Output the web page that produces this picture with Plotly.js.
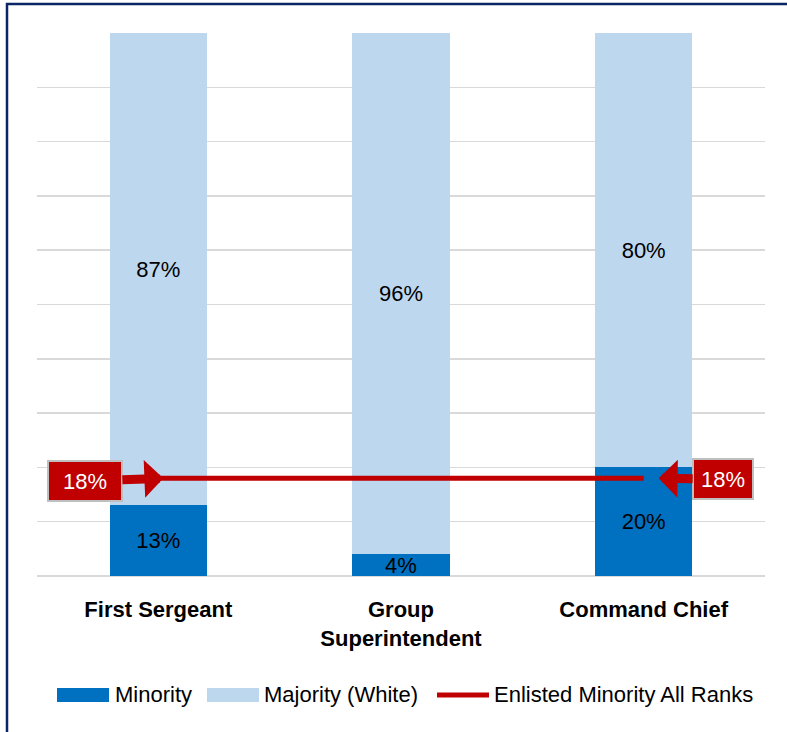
<!DOCTYPE html>
<html>
<head>
<meta charset="utf-8">
<script src="https://cdn.plot.ly/plotly-3.0.1.min.js"></script>
<style>
  html, body { margin: 0; padding: 0; background: #fff; }
  #chart { width: 787px; height: 732px; }
</style>
</head>
<body>
<div id="chart"></div>
<script>
// ---- data ----
const categories = ['First Sergeant', 'Group<br>Superintendent', 'Command Chief'];
const minority = [13, 4, 20];
const majority = [87, 96, 80];
const allRanksMinority = [18, 18, 18];
const seriesNames = ['Minority', 'Majority (White)', 'Enlisted Minority All Ranks'];

// ---- styles ----
const FONT = 'Liberation Sans, Arial, sans-serif';
const C_MIN = '#0070C0';
const C_MAJ = '#BDD7EE';
const C_RED = '#C00000';
const C_GRID = '#D9D9D9';

const traces = [
  {
    type: 'bar', name: seriesNames[0], x: categories, y: minority,
    marker: { color: C_MIN },
    texttemplate: '%{y}%', textposition: 'inside', insidetextanchor: 'middle',
    constraintext: 'none', cliponaxis: false,
    textfont: { family: FONT, size: 22, color: '#000' },
    width: 0.4, hoverinfo: 'skip', showlegend: false
  },
  {
    type: 'bar', name: seriesNames[1], x: categories, y: majority,
    marker: { color: C_MAJ },
    texttemplate: '%{y}%', textposition: 'inside', insidetextanchor: 'middle',
    constraintext: 'none',
    textfont: { family: FONT, size: 22, color: '#000' },
    width: 0.4, hoverinfo: 'skip', showlegend: false
  },
  {
    type: 'scatter', mode: 'lines', name: seriesNames[2], x: categories, y: allRanksMinority,
    line: { color: C_RED, width: 5 },
    hoverinfo: 'skip', showlegend: false
  }
];

// paper-coordinate helpers (plot area: x 37..765, y 33..576)
const PL = 37, PR = 765, PT = 33, PB = 576;
const px = v => (v - PL) / (PR - PL);
const py = v => (PB - v) / (PB - PT);

const shapes = [
  // outer chart border (left + top visible)
  { type: 'rect', xref: 'paper', yref: 'paper', x0: px(7), x1: px(900), y0: py(900), y1: py(4),
    line: { color: '#0B2566', width: 2.5 }, fillcolor: 'rgba(0,0,0,0)', layer: 'below' },
  // legend swatches
  { type: 'rect', xref: 'paper', yref: 'paper', x0: px(57), x1: px(109), y0: py(702), y1: py(688),
    line: { width: 0 }, fillcolor: C_MIN },
  { type: 'rect', xref: 'paper', yref: 'paper', x0: px(207), x1: px(259), y0: py(702), y1: py(688),
    line: { width: 0 }, fillcolor: C_MAJ },
  { type: 'line', xref: 'paper', yref: 'paper', x0: px(437), x1: px(489), y0: py(695), y1: py(695),
    line: { color: C_RED, width: 5 } }
];

const legendText = (x, t) => ({
  xref: 'paper', yref: 'paper', x: px(x), y: py(694), xanchor: 'left', yanchor: 'middle',
  text: t, showarrow: false, font: { family: FONT, size: 22, color: '#000' }
});

const annotations = [
  legendText(113, seriesNames[0]),
  legendText(262, seriesNames[1]),
  legendText(492, seriesNames[2]),
  // callouts
  {
    x: categories[0], y: allRanksMinority[0], xref: 'x', yref: 'y',
    text: allRanksMinority[0] + '%', font: { family: FONT, size: 22, color: '#fff' },
    bgcolor: C_RED, bordercolor: '#BFBFBF', borderwidth: 2, borderpad: 0,
    width: 72, height: 38, align: 'center', valign: 'middle',
    showarrow: true, arrowhead: 1, arrowsize: 0.7, arrowwidth: 9, arrowcolor: C_RED,
    ax: -78, ay: 3, xshift: 5
  },
  {
    x: categories[2], y: allRanksMinority[2], xref: 'x', yref: 'y',
    text: allRanksMinority[2] + '%', font: { family: FONT, size: 22, color: '#fff' },
    bgcolor: C_RED, bordercolor: '#BFBFBF', borderwidth: 2, borderpad: 0,
    width: 58, height: 38, align: 'center', valign: 'middle',
    showarrow: true, arrowhead: 1, arrowsize: 0.7, arrowwidth: 9, arrowcolor: C_RED,
    ax: 64, ay: 1, xshift: 15
  }
];

const layout = {
  width: 787, height: 732,
  margin: { l: PL, r: 787 - PR, t: PT, b: 732 - PB, pad: 0 },
  paper_bgcolor: '#fff', plot_bgcolor: '#fff',
  barmode: 'stack', bargap: 0.6,
  showlegend: false,
  font: { family: FONT, color: '#000' },
  xaxis: {
    type: 'category', showgrid: false, showline: false, zeroline: false,
    ticks: '', ticklabelstandoff: 18,
    tickfont: { family: FONT, size: 22, color: '#000', weight: 'bold' },
    tickangle: 0, fixedrange: true
  },
  yaxis: {
    range: [0, 100], dtick: 10, showticklabels: false, ticks: '',
    showgrid: true, gridcolor: C_GRID, gridwidth: 1.5,
    zeroline: true, zerolinecolor: C_GRID, zerolinewidth: 1.5,
    showline: false, fixedrange: true
  },
  shapes: shapes,
  annotations: annotations
};

Plotly.newPlot('chart', traces, layout, { staticPlot: true, displayModeBar: false });
</script>
</body>
</html>
